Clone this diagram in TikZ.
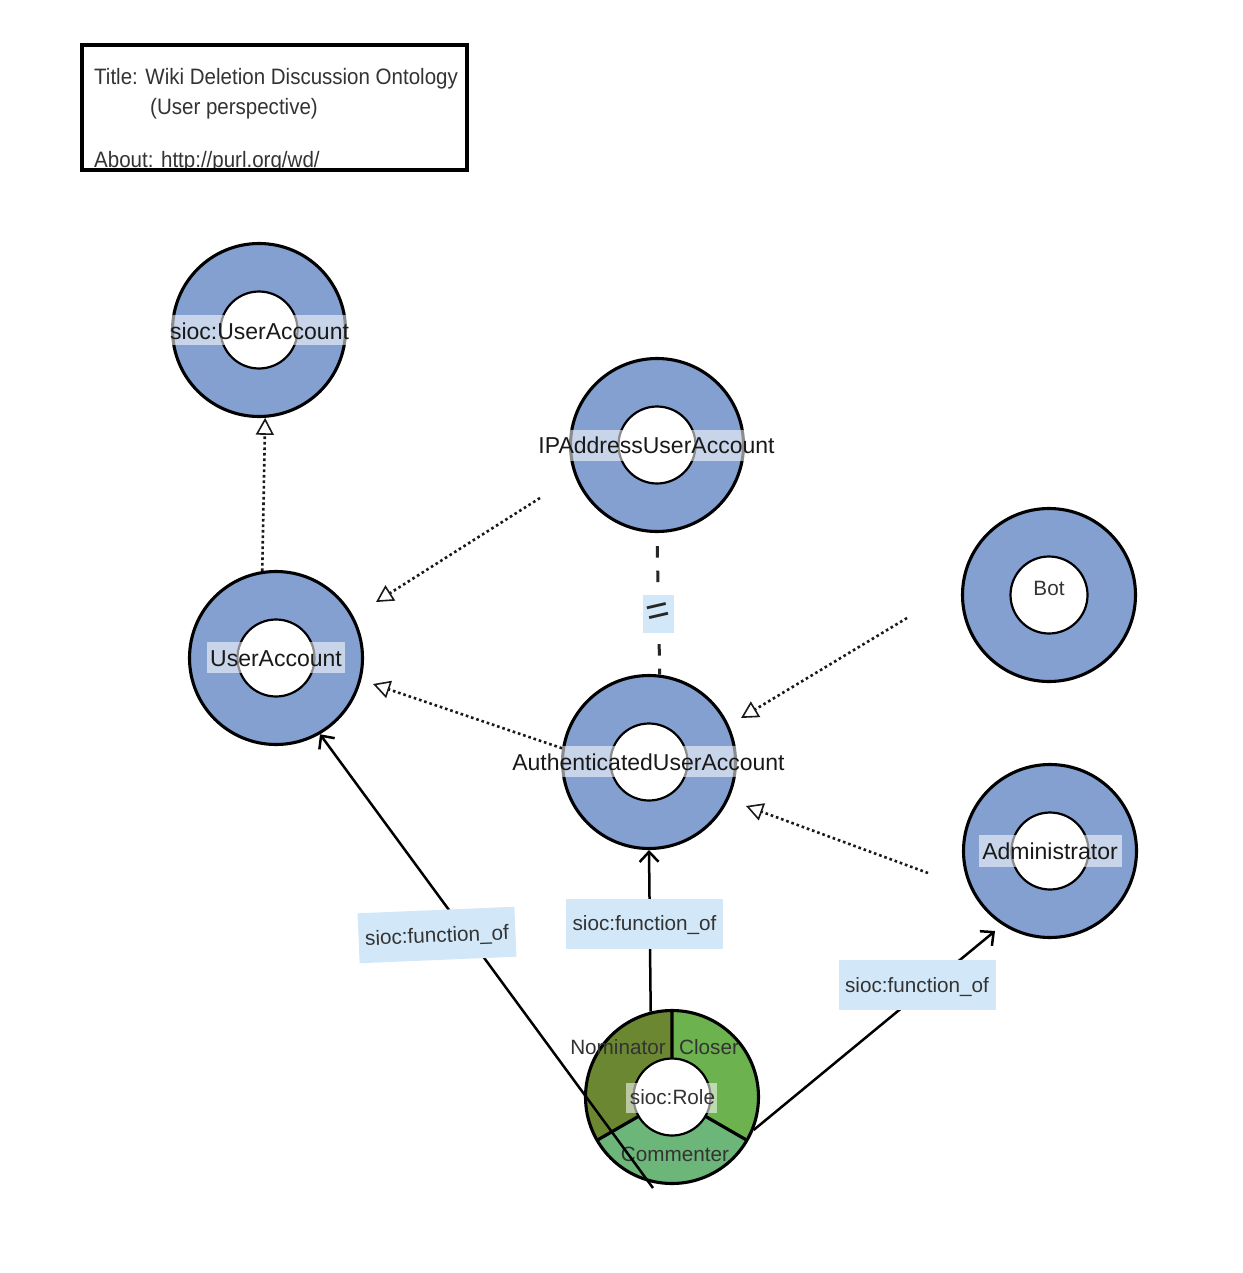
\documentclass[tikz,border=0pt]{standalone}
\usepackage{fontspec}
\setmainfont{Liberation Sans}
\usetikzlibrary{arrows.meta}
\definecolor{ringblue}{HTML}{83A0D0}
\definecolor{fnblue}{HTML}{D2E8F8}
\definecolor{nomgreen}{HTML}{6B8731}
\definecolor{closegreen}{HTML}{6CB24F}
\definecolor{commgreen}{HTML}{6CB679}
\definecolor{txtgray}{HTML}{333333}
\newcommand{\narrowtxt}[1]{\scalebox{0.92}[1]{#1}}
\begin{document}
\begin{tikzpicture}[x=1pt,y=-1pt,
  ring/.style={circle, draw=black, line width=3.1pt, fill=ringblue, minimum size=173pt, inner sep=0pt},
  hole/.style={circle, draw=black, line width=2.2pt, fill=white, minimum size=77pt, inner sep=0pt},
  biglbl/.style={font=\fontsize{23}{26}\selectfont, text=black!90, inner sep=0pt, text height=16.6pt, text depth=0pt},
  smalllbl/.style={font=\fontsize{20.7}{24}\selectfont, text=txtgray, inner sep=0pt, text height=14.9pt, text depth=0pt},
  titletxt/.style={font=\fontsize{22.3}{26}\selectfont, text=txtgray, inner sep=0pt, text height=16pt, text depth=0pt, anchor=west},
  lblbg/.style={fill=white, fill opacity=0.55},
  fnlabel/.style={fill=fnblue, font=\fontsize{20.7}{24}\selectfont, text=txtgray, minimum width=157pt, minimum height=50pt, inner sep=0pt, text height=14.9pt, text depth=0pt},
  subarrow/.style={line width=2.6pt, draw=black!90, dash pattern=on 2.6pt off 2.9pt, -{Triangle[open, length=17pt, width=18pt, line width=1.6pt]}},
  funarrow/.style={line width=2.5pt, draw=black, -{Straight Barb[length=10pt, width=19pt, line width=2.5pt]}},
  equivline/.style={line width=3pt, draw=black!85, dash pattern=on 11.5pt off 13pt, dash phase=11.5pt}
]
\fill[white] (0,0) rectangle (1242,1273);
\useasboundingbox (0,0) rectangle (1242,1273);

% title box
\node[titletxt] (ttitle) at (94,77) {\narrowtxt{Title: Wiki Deletion Discussion Ontology}};
\node[titletxt] (tpersp) at (150,107) {\narrowtxt{(User perspective)}};
\node[titletxt] (tabout) at (94,159.5) {\narrowtxt{About: http://purl.org/wd/}};
\node[draw=black, line width=3.5pt, minimum width=385pt, minimum height=125pt, inner sep=0pt] (titlebox) at (274.5,107.5) {};

% blue classes
\node[ring] (sua) at (259,330) {};
\node[hole] (suah) at (259,330) {};
\node[ring] (ip) at (657,445) {};
\node[hole] (iph) at (657,445) {};
\node[ring] (ua) at (276,658) {};
\node[hole] (uah) at (276,658) {};
\node[ring] (auth) at (649,762) {};
\node[hole] (authh) at (649,762) {};
\node[ring] (bot) at (1049,595) {};
\node[hole] (both) at (1049,595) {};
\node[ring] (admin) at (1050,851) {};
\node[hole] (adminh) at (1050,851) {};

% sioc:Role segmented ring
\begin{scope}[shift={(672,1097)}, x=1pt, y=1pt]
  \fill[nomgreen] (90:86.5) arc[start angle=90, end angle=210, radius=86.5] -- (210:38.5) arc[start angle=210, end angle=90, radius=38.5] -- cycle;
  \fill[closegreen] (-30:86.5) arc[start angle=-30, end angle=90, radius=86.5] -- (90:38.5) arc[start angle=90, end angle=-30, radius=38.5] -- cycle;
  \fill[commgreen] (210:86.5) arc[start angle=210, end angle=330, radius=86.5] -- (330:38.5) arc[start angle=330, end angle=210, radius=38.5] -- cycle;
  \draw[line width=3.2pt] (90:38.5) -- (90:86.5) (210:38.5) -- (210:86.5) (330:38.5) -- (330:86.5);
\end{scope}
\node[circle, draw=black, line width=3.1pt, minimum size=173pt, inner sep=0pt] (role) at (672,1097) {};
\node[hole] (roleh) at (672,1097) {};

% label backgrounds
\fill[lblbg] (171,315) rectangle (348,345);
\fill[lblbg] (569,430) rectangle (745,461);
\fill[lblbg] (207,642) rectangle (345,673);
\fill[lblbg] (560,746) rectangle (737,777);
\fill[lblbg] (979,835) rectangle (1122,867);
\fill[lblbg] (626,1083) rectangle (717,1113);

% labels
\node[biglbl] (suat) at (259.5,331) {sioc:UserAccount};
\node[biglbl] (ipt) at (656.5,445) {IPAddressUserAccount};
\node[biglbl] (uat) at (276,658) {UserAccount};
\node[biglbl] (autht) at (648.5,762) {AuthenticatedUserAccount};
\node[smalllbl] (bott) at (1049,588) {Bot};
\node[biglbl] (admint) at (1050,851) {Administrator};
\node[smalllbl] (rolet) at (672.5,1097) {sioc:Role};
\node[smalllbl] (nomt) at (618,1047) {Nominator};
\node[smalllbl] (closet) at (709,1047) {Closer};
\node[smalllbl] (commt) at (675,1154) {Commenter};

% free ends and tips
\coordinate (ipfree) at (540,498);
\coordinate (uatipa) at (376,602);
\coordinate (uatipb) at (373,684);
\coordinate (botfree) at (907,618);
\coordinate (authtipa) at (741,718);
\coordinate (adminfree) at (928,873);
\coordinate (authtipb) at (746,806);
\coordinate (rolefree) at (653,1188);
\coordinate (admintip) at (995,931);

% subclass connectors
\draw[subarrow] (ua.99) -- (sua.-86);
\draw[subarrow] (ipfree) -- (uatipa);
\draw[subarrow] (auth.171) -- (uatipb);
\draw[subarrow] (botfree) -- (authtipa);
\draw[subarrow] (adminfree) -- (authtipb);

% equivalence
\draw[equivline] (ip.-90) -- (auth.83);
\node[fill=fnblue, minimum width=31pt, minimum height=38pt, inner sep=0pt] (eqbox) at (658.5,614) {};
\node[rotate=13, font=\fontsize{40}{40}\selectfont, text=black!85, inner sep=0pt] (eqsign) at (eqbox) {=};

% function_of connectors
\draw[funarrow] (rolefree) -- (ua.-60);
\draw[funarrow] (role.104) -- (auth.south);
\draw[funarrow] (role.-22) -- (admintip);

\node[fnlabel, rotate=2.4] (fnl) at (437,935) {sioc:function\_of};
\node[fnlabel] (fnm) at (644.5,923.5) {sioc:function\_of};
\node[fnlabel] (fnr) at (917,985) {sioc:function\_of};
\end{tikzpicture}
\end{document}
